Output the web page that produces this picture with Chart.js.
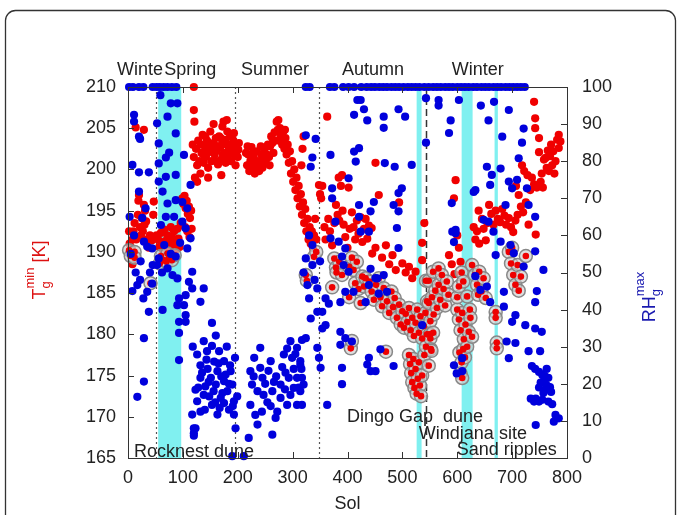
<!DOCTYPE html>
<html>
<head>
<meta charset="utf-8">
<script src="https://cdn.jsdelivr.net/npm/chart.js@4/dist/chart.umd.min.js"></script>
<style>
  html, body { margin: 0; padding: 0; background: #fff; }
  canvas { display: block; }
</style>
</head>
<body>
<canvas id="solChart" width="679" height="515"></canvas>
<script>
// ground temperature minimum [K] per sol (red)
const tempPts = [
  [2,192.5],[3,191],[6,190.5],[8,191.5],[8,188.5],[10,192.5],[12,193.5],[14,205.1],[15,191.5],[17,191.8],[18,194.5],[19,196.2],[20,196.9],[22,193],[24,192],[25,194.1],[27,192.5],[29,204.8],[29,195.7],[30,193.3],[31,195],[33,193.7],[35,191.5],[38,190.5],[40,192],[44,191.4],[46,194.5],[47,196.1],
  [52,192],[55,191.5],[57,190.6],[60,192.3],[62,191],[64,190.2],[66,192.7],[68,191.3],[70,190.4],[72,192],[74,191],[76,190],[78,193],[80,191.8],[82,190.8],[84,192.5],[86,191.2],[88,190.3],[90,192.8],[92,191.6],[94,190.6],[96,193.5],
  [99,196.5],[101,195.8],[103,196.8],[105,195.3],[107,196.2],[109,194.6],[111,195.5],[113,194.1],[115,195],[104,193],[108,192.5],[112,191.8],[116,192.8],
  [120,210],[120,207.2],[121,205.8],[118,203],[120,201.5],[122,199],[124,202.5],[126,200.5],[126,198.5],[128,203.5],[130,201],[132,199.5],[133,203],[134,202],[136,204.2],[137,201.8],[138,200.8],[140,202.8],[141,204],[142,201.5],[144,203.5],[145,202],[146,200.2],[146,199],[148,202.2],[149,203.2],[150,204.6],[152,201],[153,202.6],[154,203],[156,205.5],[157,203],[158,201.8],[160,203.8],[161,201],[162,202.3],[164,200.6],[165,202.8],[166,204],[168,202.7],[169,203.8],[170,201.2],[170,199.3],[172,203.3],[172,205.2],[173,201.8],[174,205.8],[176,202],[177,203.6],[178,200.8],[180,203],[180,206],[181,204.6],[182,201.6],[184,202.5],[185,203],[186,204],[188,201],[189,202],[190,202.8],[192,203.5],[193,204.4],[194,201.8],[196,200.5],[197,203],[198,202.2],[200,201.5],[201,202.4],[202,203.2],
  [215,202],[217,200.5],[218,202.8],[219,201.8],[221,199.8],[223,201],[225,202.7],[226,201.8],[227,200.3],[229,201.5],[231,199.5],[233,200.8],[234,200.2],[235,202.2],[237,201],[239,199.8],[241,200.6],[242,202.8],[243,201.8],[245,200.2],[247,201.3],[249,202.5],[250,201.5],[251,200.9],[253,201.8],[255,203],[257,201.5],[258,200.5],[259,202.8],[261,204],[263,203.2],[265,202],[266,203.5],
  [267,204.5],[269,203.5],[271,205.8],[273,204.8],[274,206],[275,203.5],[277,205],[278,203.8],[279,204.2],[281,203],[283,204.6],[285,202.5],[286,204.8],[287,203.8],[289,201.8],[291,203],[293,200.8],[295,202.2],
  [297,199.5],[299,201],[301,198.5],[303,200],[305,197.5],[307,199],[309,196.5],[311,198],[313,195.5],[315,197],[316,200.5],[317,194.5],[318,202.5],[319,196],[320,204],[321,193.5],[323,195.2],[325,192.5],[327,194],[329,191.5],[331,193],[333,191],[335,192.5],[337,190.5],[339,192],[341,194],[343,191.5],
  [348,198.1],[350,197],[352,196.5],[354,198],[358,193],[360,191.5],[363,206.4],[365,194],[368,192.5],[372,190.8],[376,193.5],[379,195.7],[382,194.5],[384,199],[385,193.8],[388,198],[390,199.3],[391,195],[393,193.3],[396,191.8],[400,190.5],[402,197.8],[404,192.8],[408,194.8],[411,193],[414,191.5],[417,193.8],[420,192.2],[424,194.2],[427,191.2],[430,192.8],[433,194],[436,191.6],[439,193.2],[444,192.9],[445,189.8],[451,200.8],[451,190.5],[457,196.9],[463,189.3],[470,190.8],[476,188.5],[482,189.6],[488,187.8],[494,196],[500,188.6],[506,187.5],[512,188.2],[518,186.8],[524,187.6],[536,191.1],[536,189],[540,193.5],
  [585,189.6],[590,188.5],[594,196.5],[595,187.3],[597,198.7],[600,192],[603,190.5],[606,188.8],[630,193],[633,191.5],[636,192.5],[639,195],[640,191],[645,194],[648,192.8],[652,191.4],[655,193.5],[658,195.7],[662,194.6],[666,193.3],[670,195],[674,194],[678,193.6],[682,195.2],[686,194.4],[689,193.3],[694,194.1],[698,193],[702,192.4],[706,193.8],[707,198],[710,194.5],[712,196.9],[716,195.5],[718,200.5],[720,194.8],[722,199.8],[725,196],[728,199.3],[730,193.3],[733,197.5],[736,199],[740,198.2],[740,208.2],[742,206.2],[742,205],[743,192.1],[745,197.8],[749,203.8],[749,202.1],[752,198.5],[754,199.5],[756,197.8],[758,201.2],[761,201.4],[763,200.2],[765,202.3],[767,199.8],[769,201.6],[771,203],[773,200.5],[775,202.2],[777,199.5],[779,201],[782,203.6],[785,204.2],[785,202.6],[788,203.4]
];

// sols with frost-point conditions (red with grey ring)
const ringPts = [
  [2,190.2],[5,189.5],[12,190],[12,189.3],[41,186.2],[58,188.6],[60,189.5],[65,189],[70,188.8],[72,189.8],[75,189.3],[80,189],[85,189.6],
  [324,187.2],[326,186.5],[339,189.4],[343,190],[372,185.7],[376,189.2],[379,188.1],[380,187.5],[385,188.8],[390,187.2],[403,188.2],[403,184.5],[406,178.3],[408,179.2],[408,189.3],[411,187.8],[414,186.2],[417,188.8],[420,185.5],[424,183.8],[427,187],[430,185.8],[433,186.8],
  [440,186.4],[444,185.2],[448,184.2],[452,186],[457,186.8],[460,184.5],[463,183.4],[466,185.6],[470,177.9],[472,184],[476,182.6],[480,185.2],[483,183.3],[486,184.4],[490,182],[494,183.6],[497,181.2],[500,182.8],
  [503,180.8],[506,182.5],[509,181.5],[512,183.2],[515,180.5],[518,182],[521,179.8],[524,181.4],[527,183],[530,180.2],[533,182.2],[536,179.5],[539,181],[542,182.6],[543,186.5],[545,180],[545,184],[548,183.8],[548,186.5],[551,181.6],[554,184.5],[556,187.6],[557,182.4],[560,185.3],[563,183.2],[566,186],[566,188],[569,184.2],[572,187.2],[575,185.5],[578,183.5],[581,186.4],[584,184.8],
  [512,177.5],[514,176.4],[516,175.3],[518,174.2],[520,177],[522,173.5],[524,175.8],[526,172.8],[528,174.6],[530,176.6],[532,173.8],[534,172.5],[536,175],[540,177.5],[543,178.5],[548,176.2],[550,180],[551,179.5],[552,178.2],[553,178],[556,180.2],
  [600,183],[600,184.5],[603,181.8],[603,185.8],[604,177.8],[606,180.5],[606,175.3],[608,176.6],[608,187.5],[609,182.6],[609,174.7],[611,178.2],[611,186.4],[612,179.4],[614,177.2],[615,181.2],[618,178.5],[618,184.6],[621,180.3],[623,183],[624,182],[627,179.7],
  [627,188.4],[632,187.2],[636,186],[638,184.8],[640,187.6],[644,185.2],[648,186.8],[652,184.4],[670,182.7],[670,182],[672,179],[672,178.3],[694,190],[698,188.6],[700,190.5],[702,187.2],[706,186],[710,188.4],[712,185.3],[716,187],[725,189.5]
];

// ground relative humidity maximum [%] per sol (blue)
const rhPts = [
  [2,100],[9,100],[20,100],[28,100],[45,100],[52,100],[58,100],[65,100],[72,100],[80,100],[88,100],
  [324,100],[331,100],[368,100],[376,100],[392,100],[402,100],[412,100],[425,100],[435,100],
  [443,100],[450,100],[458,100],[465,100],[472,100],[480,100],[487,100],[494,100],[502,100],[510,100],[517,100],[524,100],[531,100],[540,100],[548,100],[556,100],[563,100],[570,100],[578,100],[585,100],[592,100],[600,100],[607,100],[614,100],[621,100],[629,100],[636,100],[644,100],[651,100],[658,100],[666,100],[673,100],[680,100],[688,100],[695,100],[702,100],[709,100],[716,100],[723,100],
  [11,92.5],[11,90.7],[20,86.6],[22,86],[8,79],[20,77],[38,77],[20,71.8],[32,67.3],[26,64.7],[3,65],[11,60],[29,58.3],[35,57],[5,55],[23,53],[45,52],[14,50],[40,50],[22,48],[44,47],[17,46.6],[8,45],[35,44.8],[28,43],[38,39.4],[29,32.3],[29,20.6],[17,16.5],
  [59,97.8],[78,95.6],[90,95.6],[72,92],[53,90.2],[87,87.5],[56,84.8],[75,82.3],[69,81],[56,79.4],[87,76.3],[69,75.8],[56,74.5],[63,71.8],[87,69.5],[72,68.6],[69,65],[84,65],[60,62.8],[95,58],[66,57.4],[44,56.5],[78,55],[87,54.3],[56,53.8],[53,52],[72,51.1],[62,50],[81,49.3],[90,48.4],[93,43],[90,41.2],[63,39.9],[93,36.7],[93,33.7],[93,26.4],
  [102,81.7],[114,73.6],[99,69],[108,67.3],[99,63.7],[105,61.9],[114,59.2],[108,56.5],[117,50.2],[111,47.5],[117,45.7],[138,45.7],[105,43.9],[132,42.1],[102,41.2],[105,38.5],[105,36.7],[120,6],[120,8],
  [153,36.4],[160,33],[138,31.5],[153,30.2],[180,30],[118,30],[144,28.8],[166,28.8],[126,27.9],[195,27],[175,26.1],[157,26],[186,25],[132,25],[145,24],[163,23.4],[187,23.4],[170,22],[132,21.6],[151,21.6],[175,20.7],[160,19.8],[190,19.8],[141,19.3],[123,18.4],[181,18],[138,17],[148,16.6],[199,16.6],[169,16.2],[126,15.3],[193,15.3],[175,14.8],[153,14.3],[140,13],[184,13],[132,12.5],[117,11.7],[163,11.7],[193,11.7],[123,8],[196,8],[120,6.7],[190,0.5],[211,0.5],
  [135,23],[147,20.5],[156,18],[165,25.5],[172,17.5],[178,22.5],[184,20],[191,14],[128,19],[143,26.5],[167,13.5],[159,15],
  [324,32.3],[296,31.5],[241,29.7],[308,29.7],[284,27.9],[230,27],[299,27],[260,26.1],[314,26.1],[241,24.3],[316,24],[223,23.4],[287,23],[270,22],[245,21.6],[293,21.6],[308,21.6],[250,20],[226,19.8],[278,19.8],[320,19.8],[302,18.9],[236,18],[263,18],[296,17],[278,16.2],[254,15],[223,14.3],[290,14.3],[308,14.3],[272,12.5],[232,11.6],[269,10.8],[236,9],[263,6.3],[220,5.4],
  [229,22],[247,17],[256,23.5],[266,20.5],[281,24.5],[302,24],[311,19],[286,18.5],[260,14],[244,12.5],[305,28],[290,29.5],
  [314,25.1],[317,21.6],[314,18],[317,14.3],[317,31.8],[324,87],[342,86],[336,81],[333,78.5],[369,81.7],[330,60],[336,57.4],[324,53.8],[350,53],[336,52],[320,50],[340,48],[327,46.6],[345,45.7],[330,43],[345,39.4],[354,39.4],[333,37.6],[360,35.8],[354,34.9],[345,29.7],[348,27],[351,24.3],[363,14.3],[360,43],[366,41.6],
  [372,72.7],[372,70],[378,63.7],[384,58.3],[369,59.2],[396,56.5],[390,54.3],[393,52],[402,50.2],[387,42],[396,44.8],[411,44.8],[387,34],[396,32.3],[387,30.5],[408,31.4],[390,24.3],[390,19.9],[436,25.2],[442,23.4],
  [418,96.5],[424,96.5],[412,92.5],[430,94],[436,91],[412,82.6],[421,83.5],[415,79.9],[402,75.4],[468,79.5],[486,78.5],[517,79],[466,92],[466,89],[493,94],[505,92],
  [448,69],[442,66.5],[421,68.2],[421,65],[424,61],[439,61],[484,68.2],[493,71.4],[499,72.7],[493,66.5],[490,62],[493,56.6],[442,51],[451,48.5],[439,46.6],[454,48.4],[433,42],[457,44.3],[466,49.3],[472,44.8],[439,27],[451,23.4],[460,29.3],[484,24.8],
  [543,97],[543,85],[536,35.8],[566,96.5],[566,95],[603,96.5],[588,91],[585,87.6],[590,68.7],[597,61.5],[594,58.2],[630,71.7],[594,25],[599,22.8],
  [643,95],[657,91],[667,96],[694,93.8],[682,86.6],[721,88.8],[718,85],[712,80.8],[654,78.5],[663,76.3],[679,78],[660,73.6],[694,74.5],[709,75],[700,72.7],[633,72.2],[688,68.2],[727,72.7],[730,68.2],[742,65],[591,61],[597,60.6],[648,64.2],[657,63.7],[666,61],[679,58.3],[697,57.4],[703,55.2],[670,54.7],[742,55.7],[757,50.7],[721,51.6],[633,49],[654,46.2],[642,45.3],[685,44.8],[745,45],[742,42],[660,42],[685,40.8],[706,38.5],[700,36.7],[724,35.8],[742,34.9],[754,34],[690,31.4],[706,31],[730,28.8],[751,28.8],[694,26.9],[609,26.9],[609,23.4],[736,24.8],[742,24],
  [763,24],[749,23.2],[755,22.4],[760,22],[766,21.6],[758,20.8],[752,20.3],[763,19.6],[769,19.1],[749,19],[760,18.3],[771,17.8],[757,17.5],[743,16],[734,16],[755,15.7],[749,15.2],[740,15.2],[766,15.2],[773,14.5],[779,11.6],[785,10.7],[776,9.8],[743,8.9]
];

// sol ranges of the site campaigns (cyan) and season boundaries
const siteRanges = [[55, 97], [526, 535], [608, 628], [668, 674]];
const seasonBounds = [51, 195, 348];
const yearMark = 543;

const xTicks = { min: 0, max: 800, step: 100 };
const tTicks = { min: 165, max: 210, step: 5 };
const rhTicks = { min: 0, max: 100, step: 10 };

const seasons = [['Winter', -20], ['Spring', 66], ['Summer', 206], ['Autumn', 390], ['Winter', 590]];
const sites = [['Rocknest dune', 11, 165.7], ['Dingo Gap  dune', 399, 170], ['Windjana site', 530, 167.9], ['Sand ripples', 599, 166]];

const FONT = '"Liberation Sans", Arial, sans-serif';
const FS = 18;
const INK = '#222';

// draws sub/superscript label like T_g^min [K], rotated
function drawSubSup(ctx, parts, cx, cy, color) {
  ctx.save();
  ctx.translate(cx, cy);
  ctx.rotate(-Math.PI / 2);
  ctx.fillStyle = color;
  ctx.textBaseline = 'alphabetic';
  ctx.textAlign = 'left';
  const big = FS + 'px ' + FONT, small = '13px ' + FONT;
  ctx.font = big;
  const wMain = ctx.measureText(parts.main).width;
  ctx.font = small;
  const wScript = Math.max(ctx.measureText(parts.sub).width, ctx.measureText(parts.sup).width);
  ctx.font = big;
  const wTail = parts.tail ? ctx.measureText(parts.tail).width : 0;
  let x = -(wMain + wScript + wTail) / 2;
  const base = 6;
  ctx.fillText(parts.main, x, base);
  x += wMain;
  ctx.font = small;
  ctx.fillText(parts.sub, x, base + 5);
  ctx.fillText(parts.sup, x, base - 11);
  x += wScript;
  if (parts.tail) {
    ctx.font = big;
    ctx.fillText(parts.tail, x, base);
  }
  ctx.restore();
}

const decorations = {
  id: 'decorations',
  beforeDatasetsDraw(chart) {
    const { ctx, chartArea: a, scales: { x } } = chart;
    ctx.save();
    ctx.fillStyle = '#80f0f0';
    siteRanges.forEach(([s0, s1]) => {
      const x0 = x.getPixelForValue(s0), x1 = x.getPixelForValue(s1);
      ctx.fillRect(x0, a.top, x1 - x0, a.bottom - a.top);
    });
    ctx.strokeStyle = '#555';
    ctx.lineWidth = 1.2;
    ctx.setLineDash([2, 3]);
    seasonBounds.forEach(s => {
      const px = Math.round(x.getPixelForValue(s)) + 0.5;
      ctx.beginPath(); ctx.moveTo(px, a.top); ctx.lineTo(px, a.bottom); ctx.stroke();
    });
    ctx.strokeStyle = '#333';
    ctx.lineWidth = 1.5;
    ctx.setLineDash([7, 4]);
    const px = Math.round(x.getPixelForValue(yearMark)) + 0.5;
    ctx.beginPath(); ctx.moveTo(px, a.top); ctx.lineTo(px, a.bottom); ctx.stroke();
    ctx.restore();
  },
  afterDatasetsDraw(chart) {
    const { ctx, chartArea: a, scales: { x, y, y2 } } = chart;
    ctx.save();
    // plot box and inward ticks
    ctx.strokeStyle = '#333';
    ctx.lineWidth = 1;
    ctx.strokeRect(a.left + 0.5, a.top + 0.5, a.right - a.left, a.bottom - a.top);
    ctx.beginPath();
    x.ticks.forEach(t => {
      const px = Math.round(x.getPixelForValue(t.value)) + 0.5;
      ctx.moveTo(px, a.bottom); ctx.lineTo(px, a.bottom - 6);
      ctx.moveTo(px, a.top); ctx.lineTo(px, a.top + 6);
    });
    y.ticks.forEach(t => {
      const py = Math.round(y.getPixelForValue(t.value)) + 0.5;
      ctx.moveTo(a.left, py); ctx.lineTo(a.left + 6, py);
    });
    y2.ticks.forEach(t => {
      const py = Math.round(y2.getPixelForValue(t.value)) + 0.5;
      ctx.moveTo(a.right, py); ctx.lineTo(a.right - 6, py);
    });
    ctx.stroke();

    // site labels
    ctx.font = FS + 'px ' + FONT;
    ctx.fillStyle = INK;
    ctx.textBaseline = 'middle';
    ctx.textAlign = 'left';
    sites.forEach(([txt, s, t]) => ctx.fillText(txt, x.getPixelForValue(s), y.getPixelForValue(t)));

    // season labels above the plot
    seasons.forEach(([txt, s]) => {
      const px = x.getPixelForValue(s);
      if (txt === 'Spring') {
        ctx.fillStyle = '#fff';
        ctx.fillRect(px - 1, 60, ctx.measureText(txt).width + 2, 20);
      }
      ctx.fillStyle = INK;
      ctx.fillText(txt, px, 70);
    });
    ctx.restore();
  },
  afterDraw(chart) {
    const { ctx } = chart;
    drawSubSup(ctx, { main: 'T', sub: 'g', sup: 'min', tail: ' [K]' }, 39, 270, '#d11');
    drawSubSup(ctx, { main: 'RH', sub: 'g', sup: 'max', tail: '' }, 649, 297, '#1a1ab0');
    ctx.save();
    ctx.strokeStyle = '#333';
    ctx.lineWidth = 1.3;
    ctx.beginPath();
    ctx.roundRect(5.5, 10.5, 670, 530, 10);
    ctx.stroke();
    ctx.restore();
  }
};

const toXY = pts => pts.map(([s, v]) => ({ x: s, y: v }));

new Chart(document.getElementById('solChart').getContext('2d'), {
  type: 'scatter',
  data: {
    datasets: [
      { label: 'RHg max', data: toXY(rhPts), yAxisID: 'y2', pointRadius: 4.1, pointBackgroundColor: '#0000dc', pointBorderWidth: 0, clip: false },
      { label: 'frost', data: toXY(ringPts), yAxisID: 'y', pointRadius: 3.3, pointBackgroundColor: '#ee0000', pointBorderWidth: 0, clip: false },
      { label: 'ring', data: toXY(ringPts), yAxisID: 'y', pointRadius: 6.5, pointBackgroundColor: 'rgba(205,205,205,0.65)', pointBorderColor: '#888', pointBorderWidth: 1.5, clip: false },
      { label: 'Tg min', data: toXY(tempPts), yAxisID: 'y', pointRadius: 4.1, pointBackgroundColor: '#f00000', pointBorderWidth: 0, clip: false }
    ]
  },
  options: {
    responsive: false,
    animation: false,
    layout: { padding: { top: 87, left: 0, right: 0, bottom: 0 } },
    plugins: { legend: { display: false }, tooltip: { enabled: false } },
    scales: {
      x: {
        type: 'linear', min: xTicks.min, max: xTicks.max,
        ticks: { stepSize: xTicks.step, color: INK, font: { family: FONT, size: FS }, padding: 9, maxRotation: 0 },
        grid: { display: false, drawTicks: false },
        border: { display: false },
        title: { display: true, text: 'Sol', color: INK, font: { family: FONT, size: FS }, padding: 0 },
        afterFit: s => { s.height = 57; }
      },
      y: {
        position: 'left', min: tTicks.min, max: tTicks.max,
        ticks: { stepSize: tTicks.step, color: INK, font: { family: FONT, size: FS }, padding: 12 },
        grid: { display: false, drawTicks: false },
        border: { display: false },
        afterFit: s => { s.width = 128; }
      },
      y2: {
        position: 'right', min: rhTicks.min, max: rhTicks.max,
        ticks: { stepSize: rhTicks.step, color: INK, font: { family: FONT, size: FS }, padding: 15 },
        grid: { display: false, drawTicks: false },
        border: { display: false },
        afterFit: s => { s.width = 112; }
      }
    }
  },
  plugins: [decorations]
});
</script>
</body>
</html>
